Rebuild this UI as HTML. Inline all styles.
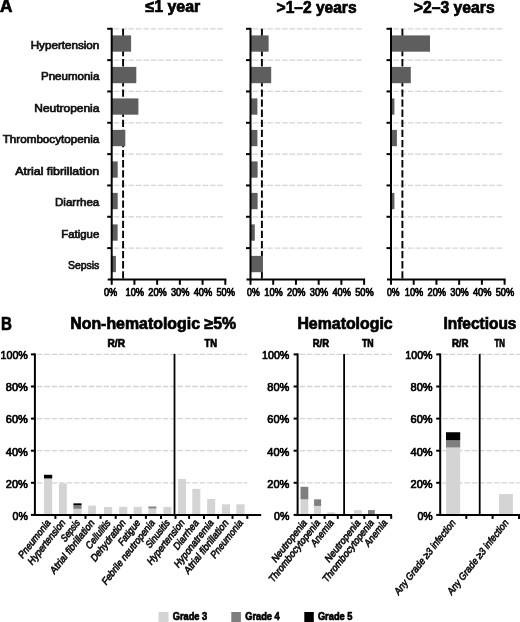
<!DOCTYPE html>
<html><head><meta charset="utf-8"><style>
html,body{margin:0;padding:0;background:#fff;}
svg{display:block;filter:blur(0.3px);font-family:"Liberation Sans",sans-serif;}
</style></head><body>
<svg width="520" height="622" viewBox="0 0 520 622">
<rect width="520" height="622" fill="#fff"/>
<text x="0.00" y="12.30" font-size="17.5" font-weight="bold" textLength="12.41" lengthAdjust="spacingAndGlyphs" fill="#000" stroke="#000" stroke-width="0.7">A</text>
<text x="145.40" y="12.3" font-size="16" font-weight="bold" textLength="54.85" lengthAdjust="spacingAndGlyphs" stroke="#000" stroke-width="0.7">≤1 year</text>
<text x="276.60" y="12.5" font-size="16" font-weight="bold" textLength="79.95" lengthAdjust="spacingAndGlyphs" stroke="#000" stroke-width="0.7">&gt;1–2 years</text>
<text x="413.80" y="12.5" font-size="16" font-weight="bold" textLength="80.85" lengthAdjust="spacingAndGlyphs" stroke="#000" stroke-width="0.7">&gt;2–3 years</text>
<text x="30.70" y="48.90" font-size="11" font-weight="normal" textLength="68.66" lengthAdjust="spacingAndGlyphs" fill="#111" stroke="#111" stroke-width="0.7">Hypertension</text>
<text x="41.00" y="80.35" font-size="11" font-weight="normal" textLength="58.32" lengthAdjust="spacingAndGlyphs" fill="#111" stroke="#111" stroke-width="0.7">Pneumonia</text>
<text x="34.30" y="111.80" font-size="11" font-weight="normal" textLength="65.06" lengthAdjust="spacingAndGlyphs" fill="#111" stroke="#111" stroke-width="0.7">Neutropenia</text>
<text x="2.70" y="143.25" font-size="11" font-weight="normal" textLength="96.58" lengthAdjust="spacingAndGlyphs" fill="#111" stroke="#111" stroke-width="0.7">Thrombocytopenia</text>
<text x="15.20" y="174.70" font-size="11" font-weight="normal" textLength="84.05" lengthAdjust="spacingAndGlyphs" fill="#111" stroke="#111" stroke-width="0.7">Atrial fibrillation</text>
<text x="55.00" y="206.15" font-size="11" font-weight="normal" textLength="44.23" lengthAdjust="spacingAndGlyphs" fill="#111" stroke="#111" stroke-width="0.7">Diarrhea</text>
<text x="61.30" y="237.60" font-size="11" font-weight="normal" textLength="37.94" lengthAdjust="spacingAndGlyphs" fill="#111" stroke="#111" stroke-width="0.7">Fatigue</text>
<text x="68.10" y="269.05" font-size="11" font-weight="normal" textLength="31.21" lengthAdjust="spacingAndGlyphs" fill="#111" stroke="#111" stroke-width="0.7">Sepsis</text>
<line x1="113.7" y1="28.80" x2="224.2" y2="28.80" stroke="#d4d4d4" stroke-width="1.3" stroke-dasharray="5.6 1.8"/>
<line x1="113.7" y1="60.13" x2="224.2" y2="60.13" stroke="#d4d4d4" stroke-width="1.3" stroke-dasharray="5.6 1.8"/>
<line x1="113.7" y1="91.46" x2="224.2" y2="91.46" stroke="#d4d4d4" stroke-width="1.3" stroke-dasharray="5.6 1.8"/>
<line x1="113.7" y1="122.79" x2="224.2" y2="122.79" stroke="#d4d4d4" stroke-width="1.3" stroke-dasharray="5.6 1.8"/>
<line x1="113.7" y1="154.12" x2="224.2" y2="154.12" stroke="#d4d4d4" stroke-width="1.3" stroke-dasharray="5.6 1.8"/>
<line x1="113.7" y1="185.45" x2="224.2" y2="185.45" stroke="#d4d4d4" stroke-width="1.3" stroke-dasharray="5.6 1.8"/>
<line x1="113.7" y1="216.78" x2="224.2" y2="216.78" stroke="#d4d4d4" stroke-width="1.3" stroke-dasharray="5.6 1.8"/>
<line x1="113.7" y1="248.11" x2="224.2" y2="248.11" stroke="#d4d4d4" stroke-width="1.3" stroke-dasharray="5.6 1.8"/>
<line x1="123.10" y1="28.8" x2="123.10" y2="279.4" stroke="#000" stroke-width="1.9" stroke-dasharray="7.3 2.8"/>
<rect x="111.7" y="35.40" width="19.40" height="16.3" fill="#5e5e5e"/>
<rect x="111.7" y="66.90" width="24.60" height="16.3" fill="#5e5e5e"/>
<rect x="111.7" y="98.40" width="26.70" height="16.3" fill="#5e5e5e"/>
<rect x="111.7" y="129.90" width="13.60" height="16.3" fill="#5e5e5e"/>
<rect x="111.7" y="161.40" width="6.00" height="16.3" fill="#5e5e5e"/>
<rect x="111.7" y="192.90" width="6.00" height="16.3" fill="#5e5e5e"/>
<rect x="111.7" y="224.40" width="5.90" height="16.3" fill="#5e5e5e"/>
<rect x="111.7" y="255.90" width="4.20" height="16.3" fill="#5e5e5e"/>
<line x1="111.7" y1="27.8" x2="111.7" y2="280.4" stroke="#000" stroke-width="2"/>
<line x1="107.2" y1="28.80" x2="111.7" y2="28.80" stroke="#000" stroke-width="2"/>
<line x1="107.2" y1="60.13" x2="111.7" y2="60.13" stroke="#000" stroke-width="2"/>
<line x1="107.2" y1="91.46" x2="111.7" y2="91.46" stroke="#000" stroke-width="2"/>
<line x1="107.2" y1="122.79" x2="111.7" y2="122.79" stroke="#000" stroke-width="2"/>
<line x1="107.2" y1="154.12" x2="111.7" y2="154.12" stroke="#000" stroke-width="2"/>
<line x1="107.2" y1="185.45" x2="111.7" y2="185.45" stroke="#000" stroke-width="2"/>
<line x1="107.2" y1="216.78" x2="111.7" y2="216.78" stroke="#000" stroke-width="2"/>
<line x1="107.2" y1="248.11" x2="111.7" y2="248.11" stroke="#000" stroke-width="2"/>
<line x1="107.7" y1="279.4" x2="226.3" y2="279.4" stroke="#000" stroke-width="2"/>
<line x1="111.70" y1="279.4" x2="111.70" y2="284.8" stroke="#000" stroke-width="2"/>
<text x="104.00" y="295.60" font-size="10.0" font-weight="normal" textLength="13.26" lengthAdjust="spacingAndGlyphs" fill="#000" stroke="#000" stroke-width="0.7">0%</text>
<line x1="134.42" y1="279.4" x2="134.42" y2="284.8" stroke="#000" stroke-width="2"/>
<text x="125.52" y="295.60" font-size="10.0" font-weight="normal" textLength="18.52" lengthAdjust="spacingAndGlyphs" fill="#000" stroke="#000" stroke-width="0.7">10%</text>
<line x1="157.14" y1="279.4" x2="157.14" y2="284.8" stroke="#000" stroke-width="2"/>
<text x="148.24" y="295.60" font-size="10.0" font-weight="normal" textLength="18.52" lengthAdjust="spacingAndGlyphs" fill="#000" stroke="#000" stroke-width="0.7">20%</text>
<line x1="179.86" y1="279.4" x2="179.86" y2="284.8" stroke="#000" stroke-width="2"/>
<text x="170.96" y="295.60" font-size="10.0" font-weight="normal" textLength="18.52" lengthAdjust="spacingAndGlyphs" fill="#000" stroke="#000" stroke-width="0.7">30%</text>
<line x1="202.58" y1="279.4" x2="202.58" y2="284.8" stroke="#000" stroke-width="2"/>
<text x="193.68" y="295.60" font-size="10.0" font-weight="normal" textLength="18.52" lengthAdjust="spacingAndGlyphs" fill="#000" stroke="#000" stroke-width="0.7">40%</text>
<line x1="225.30" y1="279.4" x2="225.30" y2="284.8" stroke="#000" stroke-width="2"/>
<text x="216.40" y="295.60" font-size="10.0" font-weight="normal" textLength="18.52" lengthAdjust="spacingAndGlyphs" fill="#000" stroke="#000" stroke-width="0.7">50%</text>
<line x1="252.5" y1="28.80" x2="363.0" y2="28.80" stroke="#d4d4d4" stroke-width="1.3" stroke-dasharray="5.6 1.8"/>
<line x1="252.5" y1="60.13" x2="363.0" y2="60.13" stroke="#d4d4d4" stroke-width="1.3" stroke-dasharray="5.6 1.8"/>
<line x1="252.5" y1="91.46" x2="363.0" y2="91.46" stroke="#d4d4d4" stroke-width="1.3" stroke-dasharray="5.6 1.8"/>
<line x1="252.5" y1="122.79" x2="363.0" y2="122.79" stroke="#d4d4d4" stroke-width="1.3" stroke-dasharray="5.6 1.8"/>
<line x1="252.5" y1="154.12" x2="363.0" y2="154.12" stroke="#d4d4d4" stroke-width="1.3" stroke-dasharray="5.6 1.8"/>
<line x1="252.5" y1="185.45" x2="363.0" y2="185.45" stroke="#d4d4d4" stroke-width="1.3" stroke-dasharray="5.6 1.8"/>
<line x1="252.5" y1="216.78" x2="363.0" y2="216.78" stroke="#d4d4d4" stroke-width="1.3" stroke-dasharray="5.6 1.8"/>
<line x1="252.5" y1="248.11" x2="363.0" y2="248.11" stroke="#d4d4d4" stroke-width="1.3" stroke-dasharray="5.6 1.8"/>
<line x1="261.90" y1="28.8" x2="261.90" y2="279.4" stroke="#000" stroke-width="1.9" stroke-dasharray="7.3 2.8"/>
<rect x="250.5" y="35.40" width="18.10" height="16.3" fill="#5e5e5e"/>
<rect x="250.5" y="66.90" width="20.70" height="16.3" fill="#5e5e5e"/>
<rect x="250.5" y="98.40" width="6.90" height="16.3" fill="#5e5e5e"/>
<rect x="250.5" y="129.90" width="6.90" height="16.3" fill="#5e5e5e"/>
<rect x="250.5" y="161.40" width="7.10" height="16.3" fill="#5e5e5e"/>
<rect x="250.5" y="192.90" width="7.10" height="16.3" fill="#5e5e5e"/>
<rect x="250.5" y="224.40" width="4.30" height="16.3" fill="#5e5e5e"/>
<rect x="250.5" y="255.90" width="12.50" height="16.3" fill="#5e5e5e"/>
<line x1="250.5" y1="27.8" x2="250.5" y2="280.4" stroke="#000" stroke-width="2"/>
<line x1="246.0" y1="28.80" x2="250.5" y2="28.80" stroke="#000" stroke-width="2"/>
<line x1="246.0" y1="60.13" x2="250.5" y2="60.13" stroke="#000" stroke-width="2"/>
<line x1="246.0" y1="91.46" x2="250.5" y2="91.46" stroke="#000" stroke-width="2"/>
<line x1="246.0" y1="122.79" x2="250.5" y2="122.79" stroke="#000" stroke-width="2"/>
<line x1="246.0" y1="154.12" x2="250.5" y2="154.12" stroke="#000" stroke-width="2"/>
<line x1="246.0" y1="185.45" x2="250.5" y2="185.45" stroke="#000" stroke-width="2"/>
<line x1="246.0" y1="216.78" x2="250.5" y2="216.78" stroke="#000" stroke-width="2"/>
<line x1="246.0" y1="248.11" x2="250.5" y2="248.11" stroke="#000" stroke-width="2"/>
<line x1="246.5" y1="279.4" x2="365.1" y2="279.4" stroke="#000" stroke-width="2"/>
<line x1="250.50" y1="279.4" x2="250.50" y2="284.8" stroke="#000" stroke-width="2"/>
<text x="247.10" y="295.60" font-size="10.0" font-weight="normal" textLength="12.66" lengthAdjust="spacingAndGlyphs" fill="#000" stroke="#000" stroke-width="0.7">0%</text>
<line x1="273.22" y1="279.4" x2="273.22" y2="284.8" stroke="#000" stroke-width="2"/>
<text x="264.32" y="295.60" font-size="10.0" font-weight="normal" textLength="18.52" lengthAdjust="spacingAndGlyphs" fill="#000" stroke="#000" stroke-width="0.7">10%</text>
<line x1="295.94" y1="279.4" x2="295.94" y2="284.8" stroke="#000" stroke-width="2"/>
<text x="287.04" y="295.60" font-size="10.0" font-weight="normal" textLength="18.52" lengthAdjust="spacingAndGlyphs" fill="#000" stroke="#000" stroke-width="0.7">20%</text>
<line x1="318.66" y1="279.4" x2="318.66" y2="284.8" stroke="#000" stroke-width="2"/>
<text x="309.76" y="295.60" font-size="10.0" font-weight="normal" textLength="18.52" lengthAdjust="spacingAndGlyphs" fill="#000" stroke="#000" stroke-width="0.7">30%</text>
<line x1="341.38" y1="279.4" x2="341.38" y2="284.8" stroke="#000" stroke-width="2"/>
<text x="332.48" y="295.60" font-size="10.0" font-weight="normal" textLength="18.52" lengthAdjust="spacingAndGlyphs" fill="#000" stroke="#000" stroke-width="0.7">40%</text>
<line x1="364.10" y1="279.4" x2="364.10" y2="284.8" stroke="#000" stroke-width="2"/>
<text x="355.20" y="295.60" font-size="10.0" font-weight="normal" textLength="18.52" lengthAdjust="spacingAndGlyphs" fill="#000" stroke="#000" stroke-width="0.7">50%</text>
<line x1="393.0" y1="28.80" x2="503.5" y2="28.80" stroke="#d4d4d4" stroke-width="1.3" stroke-dasharray="5.6 1.8"/>
<line x1="393.0" y1="60.13" x2="503.5" y2="60.13" stroke="#d4d4d4" stroke-width="1.3" stroke-dasharray="5.6 1.8"/>
<line x1="393.0" y1="91.46" x2="503.5" y2="91.46" stroke="#d4d4d4" stroke-width="1.3" stroke-dasharray="5.6 1.8"/>
<line x1="393.0" y1="122.79" x2="503.5" y2="122.79" stroke="#d4d4d4" stroke-width="1.3" stroke-dasharray="5.6 1.8"/>
<line x1="393.0" y1="154.12" x2="503.5" y2="154.12" stroke="#d4d4d4" stroke-width="1.3" stroke-dasharray="5.6 1.8"/>
<line x1="393.0" y1="185.45" x2="503.5" y2="185.45" stroke="#d4d4d4" stroke-width="1.3" stroke-dasharray="5.6 1.8"/>
<line x1="393.0" y1="216.78" x2="503.5" y2="216.78" stroke="#d4d4d4" stroke-width="1.3" stroke-dasharray="5.6 1.8"/>
<line x1="393.0" y1="248.11" x2="503.5" y2="248.11" stroke="#d4d4d4" stroke-width="1.3" stroke-dasharray="5.6 1.8"/>
<line x1="402.40" y1="28.8" x2="402.40" y2="279.4" stroke="#000" stroke-width="1.9" stroke-dasharray="7.3 2.8"/>
<rect x="391.0" y="35.40" width="39.00" height="16.3" fill="#5e5e5e"/>
<rect x="391.0" y="66.90" width="19.80" height="16.3" fill="#5e5e5e"/>
<rect x="391.0" y="98.40" width="3.40" height="16.3" fill="#5e5e5e"/>
<rect x="391.0" y="129.90" width="5.90" height="16.3" fill="#5e5e5e"/>
<rect x="391.0" y="192.90" width="3.40" height="16.3" fill="#5e5e5e"/>
<line x1="391.0" y1="27.8" x2="391.0" y2="280.4" stroke="#000" stroke-width="2"/>
<line x1="386.5" y1="28.80" x2="391.0" y2="28.80" stroke="#000" stroke-width="2"/>
<line x1="386.5" y1="60.13" x2="391.0" y2="60.13" stroke="#000" stroke-width="2"/>
<line x1="386.5" y1="91.46" x2="391.0" y2="91.46" stroke="#000" stroke-width="2"/>
<line x1="386.5" y1="122.79" x2="391.0" y2="122.79" stroke="#000" stroke-width="2"/>
<line x1="386.5" y1="154.12" x2="391.0" y2="154.12" stroke="#000" stroke-width="2"/>
<line x1="386.5" y1="185.45" x2="391.0" y2="185.45" stroke="#000" stroke-width="2"/>
<line x1="386.5" y1="216.78" x2="391.0" y2="216.78" stroke="#000" stroke-width="2"/>
<line x1="386.5" y1="248.11" x2="391.0" y2="248.11" stroke="#000" stroke-width="2"/>
<line x1="387.0" y1="279.4" x2="505.6" y2="279.4" stroke="#000" stroke-width="2"/>
<line x1="391.00" y1="279.4" x2="391.00" y2="284.8" stroke="#000" stroke-width="2"/>
<text x="386.90" y="295.60" font-size="10.0" font-weight="normal" textLength="12.66" lengthAdjust="spacingAndGlyphs" fill="#000" stroke="#000" stroke-width="0.7">0%</text>
<line x1="413.72" y1="279.4" x2="413.72" y2="284.8" stroke="#000" stroke-width="2"/>
<text x="404.82" y="295.60" font-size="10.0" font-weight="normal" textLength="18.52" lengthAdjust="spacingAndGlyphs" fill="#000" stroke="#000" stroke-width="0.7">10%</text>
<line x1="436.44" y1="279.4" x2="436.44" y2="284.8" stroke="#000" stroke-width="2"/>
<text x="427.54" y="295.60" font-size="10.0" font-weight="normal" textLength="18.52" lengthAdjust="spacingAndGlyphs" fill="#000" stroke="#000" stroke-width="0.7">20%</text>
<line x1="459.16" y1="279.4" x2="459.16" y2="284.8" stroke="#000" stroke-width="2"/>
<text x="450.26" y="295.60" font-size="10.0" font-weight="normal" textLength="18.52" lengthAdjust="spacingAndGlyphs" fill="#000" stroke="#000" stroke-width="0.7">30%</text>
<line x1="481.88" y1="279.4" x2="481.88" y2="284.8" stroke="#000" stroke-width="2"/>
<text x="472.98" y="295.60" font-size="10.0" font-weight="normal" textLength="18.52" lengthAdjust="spacingAndGlyphs" fill="#000" stroke="#000" stroke-width="0.7">40%</text>
<line x1="504.60" y1="279.4" x2="504.60" y2="284.8" stroke="#000" stroke-width="2"/>
<text x="495.70" y="295.60" font-size="10.0" font-weight="normal" textLength="18.52" lengthAdjust="spacingAndGlyphs" fill="#000" stroke="#000" stroke-width="0.7">50%</text>
<text x="1.00" y="330.10" font-size="18" font-weight="bold" textLength="10.90" lengthAdjust="spacingAndGlyphs" fill="#000" stroke="#000" stroke-width="0.7">B</text>
<text x="70.20" y="329.20" font-size="15.8" font-weight="bold" textLength="165.94" lengthAdjust="spacingAndGlyphs" fill="#000" stroke="#000" stroke-width="0.7">Non-hematologic ≥5%</text>
<text x="297.40" y="329.30" font-size="15.8" font-weight="bold" textLength="95.26" lengthAdjust="spacingAndGlyphs" fill="#000" stroke="#000" stroke-width="0.7">Hematologic</text>
<text x="443.40" y="329.10" font-size="15.8" font-weight="bold" textLength="73.09" lengthAdjust="spacingAndGlyphs" fill="#000" stroke="#000" stroke-width="0.7">Infectious</text>
<text x="107.50" y="347.00" font-size="10.5" font-weight="bold" textLength="17.46" lengthAdjust="spacingAndGlyphs" fill="#000" stroke="#000" stroke-width="0.7">R/R</text>
<text x="204.50" y="347.00" font-size="10.5" font-weight="bold" textLength="12.50" lengthAdjust="spacingAndGlyphs" fill="#000" stroke="#000" stroke-width="0.7">TN</text>
<text x="312.80" y="347.00" font-size="10.5" font-weight="bold" textLength="16.26" lengthAdjust="spacingAndGlyphs" fill="#000" stroke="#000" stroke-width="0.7">R/R</text>
<text x="361.90" y="347.00" font-size="10.5" font-weight="bold" textLength="11.70" lengthAdjust="spacingAndGlyphs" fill="#000" stroke="#000" stroke-width="0.7">TN</text>
<text x="451.90" y="347.00" font-size="10.5" font-weight="bold" textLength="16.56" lengthAdjust="spacingAndGlyphs" fill="#000" stroke="#000" stroke-width="0.7">R/R</text>
<text x="494.60" y="347.00" font-size="10.5" font-weight="bold" textLength="10.40" lengthAdjust="spacingAndGlyphs" fill="#000" stroke="#000" stroke-width="0.7">TN</text>
<line x1="36.9" y1="482.80" x2="247.3" y2="482.80" stroke="#d4d4d4" stroke-width="1.3" stroke-dasharray="5.6 1.8"/>
<line x1="36.9" y1="450.70" x2="247.3" y2="450.70" stroke="#d4d4d4" stroke-width="1.3" stroke-dasharray="5.6 1.8"/>
<line x1="36.9" y1="418.60" x2="247.3" y2="418.60" stroke="#d4d4d4" stroke-width="1.3" stroke-dasharray="5.6 1.8"/>
<line x1="36.9" y1="386.50" x2="247.3" y2="386.50" stroke="#d4d4d4" stroke-width="1.3" stroke-dasharray="5.6 1.8"/>
<line x1="36.9" y1="354.40" x2="247.3" y2="354.40" stroke="#d4d4d4" stroke-width="1.3" stroke-dasharray="5.6 1.8"/>
<rect x="44.0" y="478.47" width="8.20" height="36.43" fill="#d4d4d4"/>
<rect x="44.0" y="474.77" width="8.20" height="3.69" fill="#000000"/>
<rect x="58.9" y="483.44" width="7.90" height="31.46" fill="#d4d4d4"/>
<rect x="73.4" y="508.80" width="8.20" height="6.10" fill="#d4d4d4"/>
<rect x="73.4" y="505.27" width="8.20" height="3.53" fill="#7e7e7e"/>
<rect x="73.4" y="503.34" width="8.20" height="1.93" fill="#000000"/>
<rect x="88.2" y="505.59" width="7.70" height="9.31" fill="#d4d4d4"/>
<rect x="104.0" y="506.88" width="8.20" height="8.02" fill="#d4d4d4"/>
<rect x="119.1" y="506.88" width="8.20" height="8.02" fill="#d4d4d4"/>
<rect x="133.7" y="506.88" width="8.10" height="8.02" fill="#d4d4d4"/>
<rect x="148.4" y="508.48" width="8.00" height="6.42" fill="#d4d4d4"/>
<rect x="148.4" y="506.55" width="8.00" height="1.93" fill="#7e7e7e"/>
<rect x="163.4" y="506.88" width="8.00" height="8.02" fill="#d4d4d4"/>
<rect x="178.1" y="478.95" width="7.90" height="35.95" fill="#d4d4d4"/>
<rect x="192.3" y="488.90" width="8.00" height="26.00" fill="#d4d4d4"/>
<rect x="207.1" y="499.01" width="8.10" height="15.89" fill="#d4d4d4"/>
<rect x="221.9" y="504.31" width="8.10" height="10.59" fill="#d4d4d4"/>
<rect x="236.3" y="504.31" width="8.30" height="10.59" fill="#d4d4d4"/>
<line x1="174.5" y1="353.90" x2="174.5" y2="514.9" stroke="#000" stroke-width="1.8"/>
<line x1="34.9" y1="353.40" x2="34.9" y2="515.9" stroke="#000" stroke-width="2"/>
<line x1="30.9" y1="514.90" x2="34.9" y2="514.90" stroke="#000" stroke-width="2"/>
<text x="12.60" y="519.70" font-size="11.2" font-weight="normal" textLength="15.26" lengthAdjust="spacingAndGlyphs" fill="#000" stroke="#000" stroke-width="0.7">0%</text>
<line x1="30.9" y1="482.80" x2="34.9" y2="482.80" stroke="#000" stroke-width="2"/>
<text x="5.80" y="487.60" font-size="11.2" font-weight="normal" textLength="22.04" lengthAdjust="spacingAndGlyphs" fill="#000" stroke="#000" stroke-width="0.7">20%</text>
<line x1="30.9" y1="450.70" x2="34.9" y2="450.70" stroke="#000" stroke-width="2"/>
<text x="5.80" y="455.50" font-size="11.2" font-weight="normal" textLength="22.04" lengthAdjust="spacingAndGlyphs" fill="#000" stroke="#000" stroke-width="0.7">40%</text>
<line x1="30.9" y1="418.60" x2="34.9" y2="418.60" stroke="#000" stroke-width="2"/>
<text x="5.80" y="423.40" font-size="11.2" font-weight="normal" textLength="22.04" lengthAdjust="spacingAndGlyphs" fill="#000" stroke="#000" stroke-width="0.7">60%</text>
<line x1="30.9" y1="386.50" x2="34.9" y2="386.50" stroke="#000" stroke-width="2"/>
<text x="5.80" y="391.30" font-size="11.2" font-weight="normal" textLength="22.04" lengthAdjust="spacingAndGlyphs" fill="#000" stroke="#000" stroke-width="0.7">80%</text>
<line x1="30.9" y1="354.40" x2="34.9" y2="354.40" stroke="#000" stroke-width="2"/>
<text x="0.50" y="359.20" font-size="11.2" font-weight="normal" textLength="27.32" lengthAdjust="spacingAndGlyphs" fill="#000" stroke="#000" stroke-width="0.7">100%</text>
<line x1="33.9" y1="514.9" x2="261.2" y2="514.9" stroke="#000" stroke-width="2"/>
<line x1="55.4" y1="514.9" x2="55.4" y2="518.9" stroke="#000" stroke-width="2"/>
<line x1="70.4" y1="514.9" x2="70.4" y2="518.9" stroke="#000" stroke-width="2"/>
<line x1="85.5" y1="514.9" x2="85.5" y2="518.9" stroke="#000" stroke-width="2"/>
<line x1="100.6" y1="514.9" x2="100.6" y2="518.9" stroke="#000" stroke-width="2"/>
<line x1="115.7" y1="514.9" x2="115.7" y2="518.9" stroke="#000" stroke-width="2"/>
<line x1="130.8" y1="514.9" x2="130.8" y2="518.9" stroke="#000" stroke-width="2"/>
<line x1="145.9" y1="514.9" x2="145.9" y2="518.9" stroke="#000" stroke-width="2"/>
<line x1="161.0" y1="514.9" x2="161.0" y2="518.9" stroke="#000" stroke-width="2"/>
<line x1="175.5" y1="514.9" x2="175.5" y2="518.9" stroke="#000" stroke-width="2"/>
<line x1="189.1" y1="514.9" x2="189.1" y2="518.9" stroke="#000" stroke-width="2"/>
<line x1="204.0" y1="514.9" x2="204.0" y2="518.9" stroke="#000" stroke-width="2"/>
<line x1="218.1" y1="514.9" x2="218.1" y2="518.9" stroke="#000" stroke-width="2"/>
<line x1="232.5" y1="514.9" x2="232.5" y2="518.9" stroke="#000" stroke-width="2"/>
<line x1="247.3" y1="514.9" x2="247.3" y2="518.9" stroke="#000" stroke-width="2"/>
<line x1="299.6" y1="482.80" x2="392.0" y2="482.80" stroke="#d4d4d4" stroke-width="1.3" stroke-dasharray="5.6 1.8"/>
<line x1="299.6" y1="450.70" x2="392.0" y2="450.70" stroke="#d4d4d4" stroke-width="1.3" stroke-dasharray="5.6 1.8"/>
<line x1="299.6" y1="418.60" x2="392.0" y2="418.60" stroke="#d4d4d4" stroke-width="1.3" stroke-dasharray="5.6 1.8"/>
<line x1="299.6" y1="386.50" x2="392.0" y2="386.50" stroke="#d4d4d4" stroke-width="1.3" stroke-dasharray="5.6 1.8"/>
<line x1="299.6" y1="354.40" x2="392.0" y2="354.40" stroke="#d4d4d4" stroke-width="1.3" stroke-dasharray="5.6 1.8"/>
<rect x="300.5" y="499.33" width="7.80" height="15.57" fill="#d4d4d4"/>
<rect x="300.5" y="486.81" width="7.80" height="12.52" fill="#7e7e7e"/>
<rect x="314.1" y="505.91" width="7.00" height="8.99" fill="#d4d4d4"/>
<rect x="314.1" y="499.33" width="7.00" height="6.58" fill="#7e7e7e"/>
<rect x="327.2" y="512.33" width="8.10" height="2.57" fill="#d4d4d4"/>
<rect x="353.9" y="510.08" width="7.80" height="4.81" fill="#d4d4d4"/>
<rect x="368.0" y="510.08" width="6.80" height="4.81" fill="#7e7e7e"/>
<line x1="344.1" y1="353.90" x2="344.1" y2="514.9" stroke="#000" stroke-width="1.8"/>
<line x1="297.6" y1="353.40" x2="297.6" y2="515.9" stroke="#000" stroke-width="2"/>
<line x1="293.6" y1="514.90" x2="297.6" y2="514.90" stroke="#000" stroke-width="2"/>
<text x="274.10" y="519.70" font-size="11.2" font-weight="normal" textLength="15.26" lengthAdjust="spacingAndGlyphs" fill="#000" stroke="#000" stroke-width="0.7">0%</text>
<line x1="293.6" y1="482.80" x2="297.6" y2="482.80" stroke="#000" stroke-width="2"/>
<text x="267.30" y="487.60" font-size="11.2" font-weight="normal" textLength="22.04" lengthAdjust="spacingAndGlyphs" fill="#000" stroke="#000" stroke-width="0.7">20%</text>
<line x1="293.6" y1="450.70" x2="297.6" y2="450.70" stroke="#000" stroke-width="2"/>
<text x="267.30" y="455.50" font-size="11.2" font-weight="normal" textLength="22.04" lengthAdjust="spacingAndGlyphs" fill="#000" stroke="#000" stroke-width="0.7">40%</text>
<line x1="293.6" y1="418.60" x2="297.6" y2="418.60" stroke="#000" stroke-width="2"/>
<text x="267.30" y="423.40" font-size="11.2" font-weight="normal" textLength="22.04" lengthAdjust="spacingAndGlyphs" fill="#000" stroke="#000" stroke-width="0.7">60%</text>
<line x1="293.6" y1="386.50" x2="297.6" y2="386.50" stroke="#000" stroke-width="2"/>
<text x="267.30" y="391.30" font-size="11.2" font-weight="normal" textLength="22.04" lengthAdjust="spacingAndGlyphs" fill="#000" stroke="#000" stroke-width="0.7">80%</text>
<line x1="293.6" y1="354.40" x2="297.6" y2="354.40" stroke="#000" stroke-width="2"/>
<text x="262.00" y="359.20" font-size="11.2" font-weight="normal" textLength="27.32" lengthAdjust="spacingAndGlyphs" fill="#000" stroke="#000" stroke-width="0.7">100%</text>
<line x1="296.6" y1="514.9" x2="392.0" y2="514.9" stroke="#000" stroke-width="2"/>
<line x1="311.1" y1="514.9" x2="311.1" y2="518.9" stroke="#000" stroke-width="2"/>
<line x1="324.6" y1="514.9" x2="324.6" y2="518.9" stroke="#000" stroke-width="2"/>
<line x1="337.8" y1="514.9" x2="337.8" y2="518.9" stroke="#000" stroke-width="2"/>
<line x1="351.3" y1="514.9" x2="351.3" y2="518.9" stroke="#000" stroke-width="2"/>
<line x1="364.3" y1="514.9" x2="364.3" y2="518.9" stroke="#000" stroke-width="2"/>
<line x1="377.8" y1="514.9" x2="377.8" y2="518.9" stroke="#000" stroke-width="2"/>
<line x1="391.2" y1="514.9" x2="391.2" y2="518.9" stroke="#000" stroke-width="2"/>
<line x1="442.2" y1="482.80" x2="520" y2="482.80" stroke="#d4d4d4" stroke-width="1.3" stroke-dasharray="5.6 1.8"/>
<line x1="442.2" y1="450.70" x2="520" y2="450.70" stroke="#d4d4d4" stroke-width="1.3" stroke-dasharray="5.6 1.8"/>
<line x1="442.2" y1="418.60" x2="520" y2="418.60" stroke="#d4d4d4" stroke-width="1.3" stroke-dasharray="5.6 1.8"/>
<line x1="442.2" y1="386.50" x2="520" y2="386.50" stroke="#d4d4d4" stroke-width="1.3" stroke-dasharray="5.6 1.8"/>
<line x1="442.2" y1="354.40" x2="520" y2="354.40" stroke="#d4d4d4" stroke-width="1.3" stroke-dasharray="5.6 1.8"/>
<rect x="446.0" y="447.49" width="14.20" height="67.41" fill="#d4d4d4"/>
<rect x="446.0" y="440.27" width="14.20" height="7.22" fill="#7e7e7e"/>
<rect x="446.0" y="432.24" width="14.20" height="8.03" fill="#000000"/>
<rect x="499.1" y="494.03" width="13.80" height="20.87" fill="#d4d4d4"/>
<line x1="479.7" y1="353.90" x2="479.7" y2="514.9" stroke="#000" stroke-width="1.8"/>
<line x1="440.2" y1="353.40" x2="440.2" y2="515.9" stroke="#000" stroke-width="2"/>
<line x1="436.2" y1="514.90" x2="440.2" y2="514.90" stroke="#000" stroke-width="2"/>
<text x="417.40" y="519.70" font-size="11.2" font-weight="normal" textLength="15.26" lengthAdjust="spacingAndGlyphs" fill="#000" stroke="#000" stroke-width="0.7">0%</text>
<line x1="436.2" y1="482.80" x2="440.2" y2="482.80" stroke="#000" stroke-width="2"/>
<text x="410.60" y="487.60" font-size="11.2" font-weight="normal" textLength="22.04" lengthAdjust="spacingAndGlyphs" fill="#000" stroke="#000" stroke-width="0.7">20%</text>
<line x1="436.2" y1="450.70" x2="440.2" y2="450.70" stroke="#000" stroke-width="2"/>
<text x="410.60" y="455.50" font-size="11.2" font-weight="normal" textLength="22.04" lengthAdjust="spacingAndGlyphs" fill="#000" stroke="#000" stroke-width="0.7">40%</text>
<line x1="436.2" y1="418.60" x2="440.2" y2="418.60" stroke="#000" stroke-width="2"/>
<text x="410.60" y="423.40" font-size="11.2" font-weight="normal" textLength="22.04" lengthAdjust="spacingAndGlyphs" fill="#000" stroke="#000" stroke-width="0.7">60%</text>
<line x1="436.2" y1="386.50" x2="440.2" y2="386.50" stroke="#000" stroke-width="2"/>
<text x="410.60" y="391.30" font-size="11.2" font-weight="normal" textLength="22.04" lengthAdjust="spacingAndGlyphs" fill="#000" stroke="#000" stroke-width="0.7">80%</text>
<line x1="436.2" y1="354.40" x2="440.2" y2="354.40" stroke="#000" stroke-width="2"/>
<text x="405.30" y="359.20" font-size="11.2" font-weight="normal" textLength="27.32" lengthAdjust="spacingAndGlyphs" fill="#000" stroke="#000" stroke-width="0.7">100%</text>
<line x1="439.2" y1="514.9" x2="520" y2="514.9" stroke="#000" stroke-width="2"/>
<line x1="466.3" y1="514.9" x2="466.3" y2="518.9" stroke="#000" stroke-width="2"/>
<line x1="492.6" y1="514.9" x2="492.6" y2="518.9" stroke="#000" stroke-width="2"/>
<line x1="519.0" y1="514.9" x2="519.0" y2="518.9" stroke="#000" stroke-width="2"/>
<text transform="translate(50.90,523.3) scale(1,1.18) rotate(-47.0)" x="0" y="0" font-size="9.3" text-anchor="end" textLength="41.62" lengthAdjust="spacingAndGlyphs" fill="#111" stroke="#111" stroke-width="0.6">Pneumonia</text>
<text transform="translate(65.65,523.3) scale(1,1.18) rotate(-47.0)" x="0" y="0" font-size="9.3" text-anchor="end" textLength="49.30" lengthAdjust="spacingAndGlyphs" fill="#111" stroke="#111" stroke-width="0.6">Hypertension</text>
<text transform="translate(80.30,523.3) scale(1,1.18) rotate(-47.0)" x="0" y="0" font-size="9.3" text-anchor="end" textLength="22.44" lengthAdjust="spacingAndGlyphs" fill="#111" stroke="#111" stroke-width="0.6">Sepsis</text>
<text transform="translate(94.85,523.3) scale(1,1.18) rotate(-47.0)" x="0" y="0" font-size="9.3" text-anchor="end" textLength="59.54" lengthAdjust="spacingAndGlyphs" fill="#111" stroke="#111" stroke-width="0.6">Atrial fibrillation</text>
<text transform="translate(110.90,523.3) scale(1,1.18) rotate(-47.0)" x="0" y="0" font-size="9.3" text-anchor="end" textLength="30.84" lengthAdjust="spacingAndGlyphs" fill="#111" stroke="#111" stroke-width="0.6">Cellulitis</text>
<text transform="translate(126.00,523.3) scale(1,1.18) rotate(-47.0)" x="0" y="0" font-size="9.3" text-anchor="end" textLength="45.54" lengthAdjust="spacingAndGlyphs" fill="#111" stroke="#111" stroke-width="0.6">Dehydration</text>
<text transform="translate(140.55,523.3) scale(1,1.18) rotate(-47.0)" x="0" y="0" font-size="9.3" text-anchor="end" textLength="26.96" lengthAdjust="spacingAndGlyphs" fill="#111" stroke="#111" stroke-width="0.6">Fatigue</text>
<text transform="translate(155.20,523.3) scale(1,1.18) rotate(-47.0)" x="0" y="0" font-size="9.3" text-anchor="end" textLength="72.25" lengthAdjust="spacingAndGlyphs" fill="#111" stroke="#111" stroke-width="0.6">Febrile neutropenia</text>
<text transform="translate(170.20,523.3) scale(1,1.18) rotate(-47.0)" x="0" y="0" font-size="9.3" text-anchor="end" textLength="29.82" lengthAdjust="spacingAndGlyphs" fill="#111" stroke="#111" stroke-width="0.6">Sinusitis</text>
<text transform="translate(184.85,523.3) scale(1,1.18) rotate(-47.0)" x="0" y="0" font-size="9.3" text-anchor="end" textLength="49.30" lengthAdjust="spacingAndGlyphs" fill="#111" stroke="#111" stroke-width="0.6">Hypertension</text>
<text transform="translate(199.10,523.3) scale(1,1.18) rotate(-47.0)" x="0" y="0" font-size="9.3" text-anchor="end" textLength="31.71" lengthAdjust="spacingAndGlyphs" fill="#111" stroke="#111" stroke-width="0.6">Diarrhea</text>
<text transform="translate(213.95,523.3) scale(1,1.18) rotate(-47.0)" x="0" y="0" font-size="9.3" text-anchor="end" textLength="52.39" lengthAdjust="spacingAndGlyphs" fill="#111" stroke="#111" stroke-width="0.6">Hyponatremia</text>
<text transform="translate(228.75,523.3) scale(1,1.18) rotate(-47.0)" x="0" y="0" font-size="9.3" text-anchor="end" textLength="59.54" lengthAdjust="spacingAndGlyphs" fill="#111" stroke="#111" stroke-width="0.6">Atrial fibrillation</text>
<text transform="translate(243.25,523.3) scale(1,1.18) rotate(-47.0)" x="0" y="0" font-size="9.3" text-anchor="end" textLength="41.62" lengthAdjust="spacingAndGlyphs" fill="#111" stroke="#111" stroke-width="0.6">Pneumonia</text>
<text transform="translate(307.20,523.3) scale(1,1.18) rotate(-47.0)" x="0" y="0" font-size="9.3" text-anchor="end" textLength="46.22" lengthAdjust="spacingAndGlyphs" fill="#111" stroke="#111" stroke-width="0.6">Neutropenia</text>
<text transform="translate(320.40,523.3) scale(1,1.18) rotate(-47.0)" x="0" y="0" font-size="9.3" text-anchor="end" textLength="69.60" lengthAdjust="spacingAndGlyphs" fill="#111" stroke="#111" stroke-width="0.6">Thrombocytopenia</text>
<text transform="translate(334.05,523.3) scale(1,1.18) rotate(-47.0)" x="0" y="0" font-size="9.3" text-anchor="end" textLength="27.98" lengthAdjust="spacingAndGlyphs" fill="#111" stroke="#111" stroke-width="0.6">Anemia</text>
<text transform="translate(360.60,523.3) scale(1,1.18) rotate(-47.0)" x="0" y="0" font-size="9.3" text-anchor="end" textLength="46.22" lengthAdjust="spacingAndGlyphs" fill="#111" stroke="#111" stroke-width="0.6">Neutropenia</text>
<text transform="translate(374.20,523.3) scale(1,1.18) rotate(-47.0)" x="0" y="0" font-size="9.3" text-anchor="end" textLength="69.60" lengthAdjust="spacingAndGlyphs" fill="#111" stroke="#111" stroke-width="0.6">Thrombocytopenia</text>
<text transform="translate(387.60,523.3) scale(1,1.18) rotate(-47.0)" x="0" y="0" font-size="9.3" text-anchor="end" textLength="27.98" lengthAdjust="spacingAndGlyphs" fill="#111" stroke="#111" stroke-width="0.6">Anemia</text>
<text transform="translate(455.80,523.3) scale(1,1.18) rotate(-47.0)" x="0" y="0" font-size="9.3" text-anchor="end" textLength="83.86" lengthAdjust="spacingAndGlyphs" fill="#111" stroke="#111" stroke-width="0.6">Any Grade ≥3 infection</text>
<text transform="translate(508.80,523.3) scale(1,1.18) rotate(-47.0)" x="0" y="0" font-size="9.3" text-anchor="end" textLength="83.86" lengthAdjust="spacingAndGlyphs" fill="#111" stroke="#111" stroke-width="0.6">Any Grade ≥3 infection</text>
<rect x="158.5" y="612" width="10" height="10" fill="#d4d4d4"/>
<rect x="231.3" y="612" width="9.6" height="10" fill="#7e7e7e"/>
<rect x="304.3" y="612" width="9.5" height="10" fill="#000000"/>
<text x="172.70" y="620.20" font-size="10.7" font-weight="bold" textLength="34.58" lengthAdjust="spacingAndGlyphs" fill="#000" stroke="#000" stroke-width="0.7">Grade 3</text>
<text x="245.20" y="620.20" font-size="10.7" font-weight="bold" textLength="34.58" lengthAdjust="spacingAndGlyphs" fill="#000" stroke="#000" stroke-width="0.7">Grade 4</text>
<text x="317.90" y="620.20" font-size="10.7" font-weight="bold" textLength="34.58" lengthAdjust="spacingAndGlyphs" fill="#000" stroke="#000" stroke-width="0.7">Grade 5</text>
</svg>
</body></html>
